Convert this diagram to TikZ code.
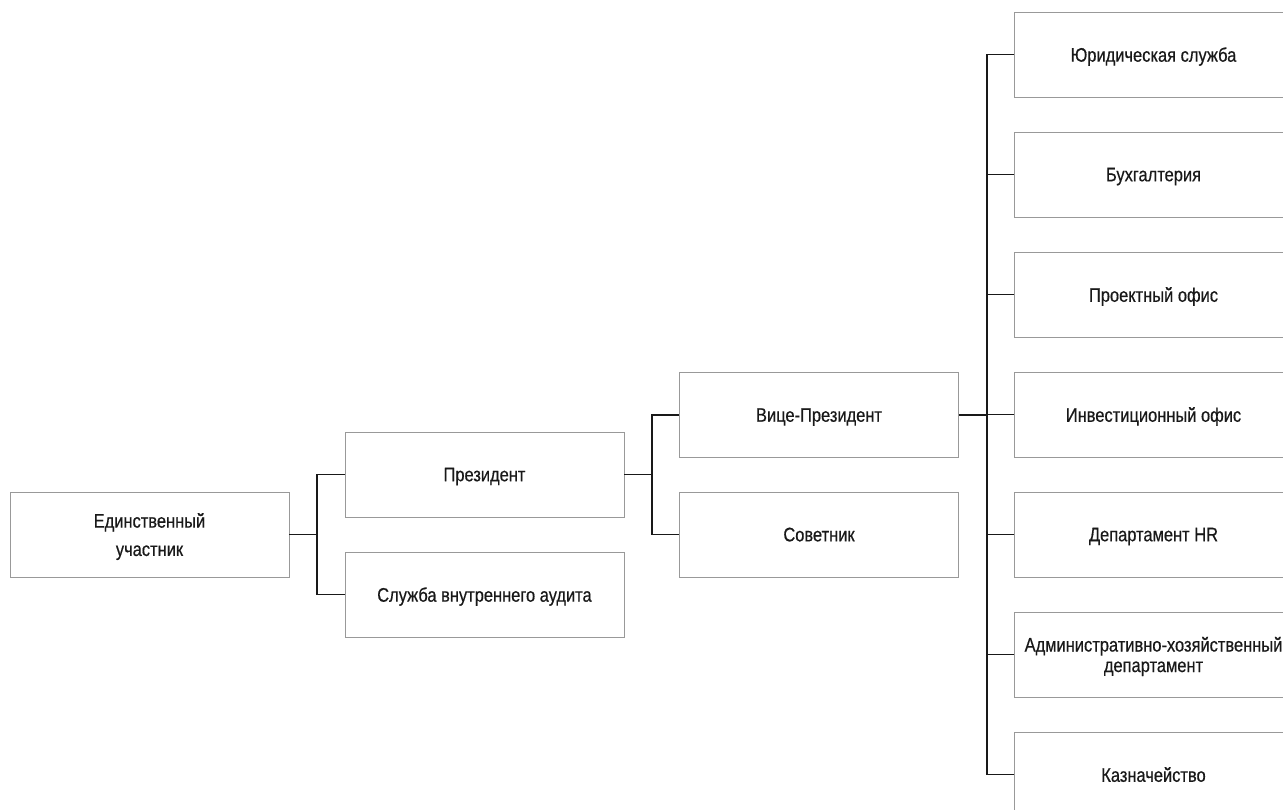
\documentclass[tikz,border=0pt]{standalone}
\usepackage{fontspec}
\setmainfont[FakeStretch=0.84,FakeBold=0.5]{Liberation Sans}
\begin{document}
\begin{tikzpicture}[x=1pt,y=-1pt,
  box/.style={draw=black!40, line width=0.9pt, fill=white, minimum width=279pt, minimum height=85pt, inner sep=0pt, align=center, font=\fontsize{19.6}{20.5}\selectfont, text=black!90, text depth=0pt},
  conn/.style={draw=black!90, line width=1.8pt}]
\useasboundingbox (0,0) rectangle (1283,809);
\begin{scope}
\clip (0,0) rectangle (1283,809);
\node[box, font=\fontsize{19.6}{28.3}\selectfont] (su) at (149.5,534.5) {Единственный\\участник};
\node[box] (pres) at (484.5,474.5) {Президент};
\node[box] (aud) at (484.5,594.5) {Служба внутреннего аудита};
\node[box] (vp) at (819,415) {Вице-Президент};
\node[box] (adv) at (819,534.5) {Советник};
\node[box] (legal) at (1153.5,54.5) {Юридическая служба};
\node[box] (acc) at (1153.5,174.5) {Бухгалтерия};
\node[box] (proj) at (1153.5,294.5) {Проектный офис};
\node[box] (inv) at (1153.5,414.5) {Инвестиционный офис};
\node[box] (hr) at (1153.5,534.5) {Департамент HR};
\node[box] (adm) at (1153.5,654.5) {Административно-хозяйственный\\департамент};
\node[box] (tre) at (1153.5,774.5) {Казначейство};
\end{scope}
\coordinate (j1) at (317,534.5);
\coordinate (j2) at (652,474.5);
\coordinate (j3) at (987,415);
\draw[conn] (su.east) -- (j1);
\draw[conn] (pres.west) -| (j1) |- (aud.west);
\draw[conn] (pres.east) -- (j2);
\draw[conn] (vp.west) -| (j2) |- (adv.west);
\draw[conn] (vp.east) -- (j3);
\draw[conn] (legal.west) -| (j3) |- (tre.west);
\draw[conn] (acc.west) -- (acc.west -| j3);
\draw[conn] (proj.west) -- (proj.west -| j3);
\draw[conn] (inv.west) -- (inv.west -| j3);
\draw[conn] (hr.west) -- (hr.west -| j3);
\draw[conn] (adm.west) -- (adm.west -| j3);
\end{tikzpicture}
\end{document}
